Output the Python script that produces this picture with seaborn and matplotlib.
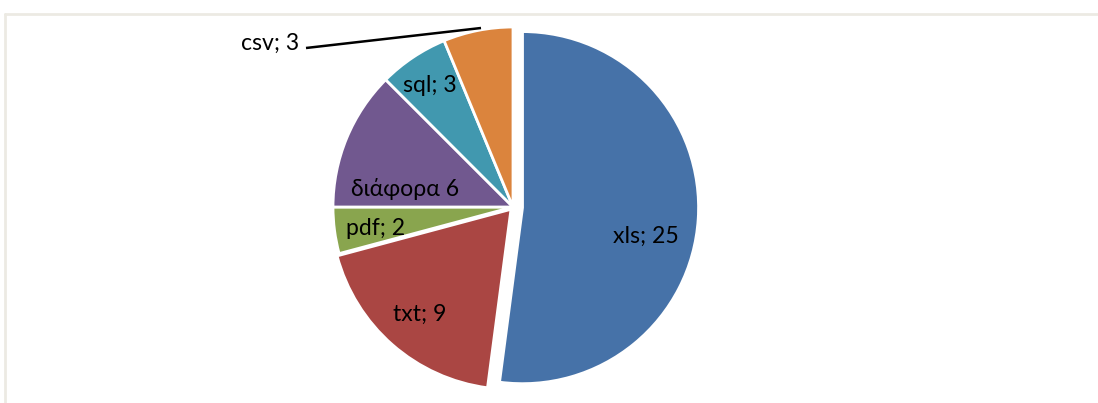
import matplotlib
matplotlib.use("Agg")
import matplotlib.pyplot as plt
from matplotlib.lines import Line2D
import seaborn as sns

# ---- data ----
categories = ["xls", "txt", "pdf", "διάφορα", "sql", "csv"]
values = [25, 9, 2, 6, 3, 3]
labels = ["xls; 25", "txt; 9", "pdf; 2", "διάφορα 6", "sql; 3", "csv; 3"]

colors = ["#4672A8", "#AA4643", "#89A54E", "#71588F", "#4198AF", "#DB843D"]
explode = [0.053, 0.017, 0, 0, 0, 0]

sns.set_theme(style="white")
plt.rcParams["font.family"] = ["Lato", "Open Sans", "DejaVu Sans"]

W, H, DPI = 1098, 403, 100
fig = plt.figure(figsize=(W / DPI, H / DPI), dpi=DPI)
ax = fig.add_axes([0, 0, 1, 1])

cx, cy, R = 513, 207, 180  # pie centre / radius in pixels

wedges, _ = ax.pie(values, colors=colors, startangle=90, counterclock=False,
                   explode=explode, radius=1,
                   wedgeprops=dict(edgecolor="white", linewidth=2.0))
wedges[0].set_radius(0.978)

ax.set_xlim(-cx / R, (W - cx) / R)
ax.set_ylim(-(H - cy) / R, cy / R)
ax.set_aspect("auto")
ax.axis("off")


def d(px, py):
    return (px - cx) / R, (cy - py) / R


label_pos = {
    "xls; 25": (646, 236),
    "txt; 9": (420, 314),
    "pdf; 2": (376, 228),
    "διάφορα 6": (405, 189),
    "sql; 3": (430, 85),
    "csv; 3": (270, 43),
}
for lab in labels:
    x, y = d(*label_pos[lab])
    ax.text(x, y, lab, ha="center", va="center", fontsize=16.6, color="black")

# leader line for csv
x0, y0 = d(306, 48)
x1, y1 = d(481, 28)
ax.plot([x0, x1], [y0, y1], color="black", lw=1.8, solid_capstyle="butt")

# chart area frame (only top and left visible)
fc = "#ECEAE3"
fig.add_artist(Line2D([5 / W, 1], [1 - 14 / H, 1 - 14 / H], color=fc, lw=2, transform=fig.transFigure))
fig.add_artist(Line2D([5 / W, 5 / W], [0, 1 - 14 / H], color=fc, lw=2, transform=fig.transFigure))

fig.savefig("out.png", dpi=DPI, facecolor="white")
